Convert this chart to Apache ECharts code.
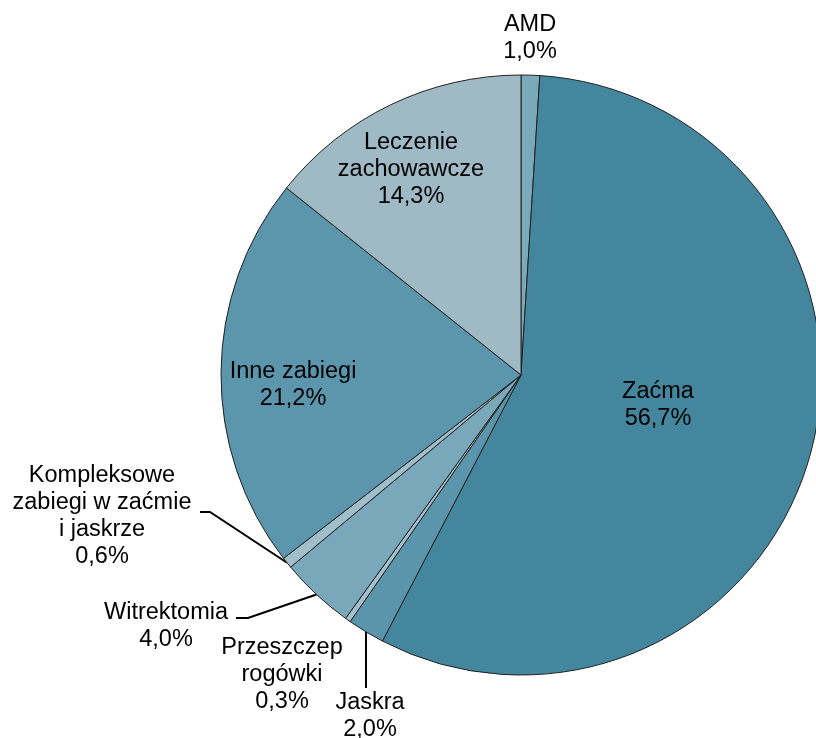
<!DOCTYPE html>
<html>
<head>
<meta charset="utf-8">
<script src="https://cdn.jsdelivr.net/npm/echarts@6/dist/echarts.min.js"></script>
<style>
    html, body { margin: 0; padding: 0; background: #fff; }
    #main { width: 816px; height: 738px; }
</style>
</head>
<body>
<div id="main"></div>
<script>
// dane (udzial procentowy)
var names = ['AMD', 'Zaćma', 'Jaskra', 'Przeszczep\nrogówki', 'Witrektomia',
    'Kompleksowe\nzabiegi w zaćmie\ni jaskrze', 'Inne zabiegi', 'Leczenie\nzachowawcze'];
var values = [1.0, 56.7, 2.0, 0.3, 4.0, 0.6, 21.2, 14.3];
var colors = ['#7aa9b9', '#44869e', '#5b95ab', '#a2c1cc', '#78a8b9', '#a0bfca', '#5b96ad', '#9fb9c5'];

// pozycje etykiet (srodek bloku tekstu) i linii odniesienia
var labelPos = [
    {x: 530, y: 38},
    {x: 658, y: 405},
    {x: 370, y: 716, line: [[366, 688]]},
    {x: 282, y: 675},
    {x: 166, y: 626, line: [[248, 618], [236, 618]]},
    {x: 102, y: 516, line: [[210, 512], [200, 512]]},
    {x: 293, y: 385},
    {x: 411, y: 170}
];

var center = [521, 375], radius = 300;

var chart = echarts.init(document.getElementById('main'));

var total = values.reduce(function (a, b) { return a + b; }, 0);
function edgePoint(idx) {
    var before = 0;
    for (var i = 0; i < idx; i++) before += values[i];
    var mid = (before + values[idx] / 2) / total * Math.PI * 2;
    return [center[0] + radius * Math.sin(mid), center[1] - radius * Math.cos(mid)];
}

var data = names.map(function (n, i) {
    return {
        name: n,
        value: values[i],
        itemStyle: {color: colors[i]},
        labelLine: {show: !!labelPos[i].line}
    };
});

chart.setOption({
    backgroundColor: '#fff',
    animation: false,
    series: [
        {
            type: 'pie',
            center: center,
            radius: radius,
            startAngle: 90,
            clockwise: true,
            avoidLabelOverlap: false,
            itemStyle: {
                borderColor: '#222',
                borderWidth: 1
            },
            label: {
                show: true,
                position: 'outside',
                color: '#000',
                fontFamily: 'Liberation Sans, Arial, sans-serif',
                fontSize: 23.5,
                lineHeight: 27,
                align: 'center',
                formatter: function (p) {
                    return p.name + '\n' + p.value.toFixed(1).replace('.', ',') + '%';
                }
            },
            labelLine: {
                show: false,
                lineStyle: {color: '#000', width: 2}
            },
            labelLayout: function (params) {
                var lp = labelPos[params.dataIndex];
                var res = {x: lp.x, y: lp.y, align: 'center', verticalAlign: 'middle'};
                if (lp.line) {
                    var pts = [edgePoint(params.dataIndex)].concat(lp.line);
                    if (pts.length < 3) pts.splice(1, 0, [(pts[0][0] + pts[1][0]) / 2, (pts[0][1] + pts[1][1]) / 2]);
                    res.labelLinePoints = pts;
                }
                return res;
            },
            data: data
        }
    ]
});
</script>
</body>
</html>
